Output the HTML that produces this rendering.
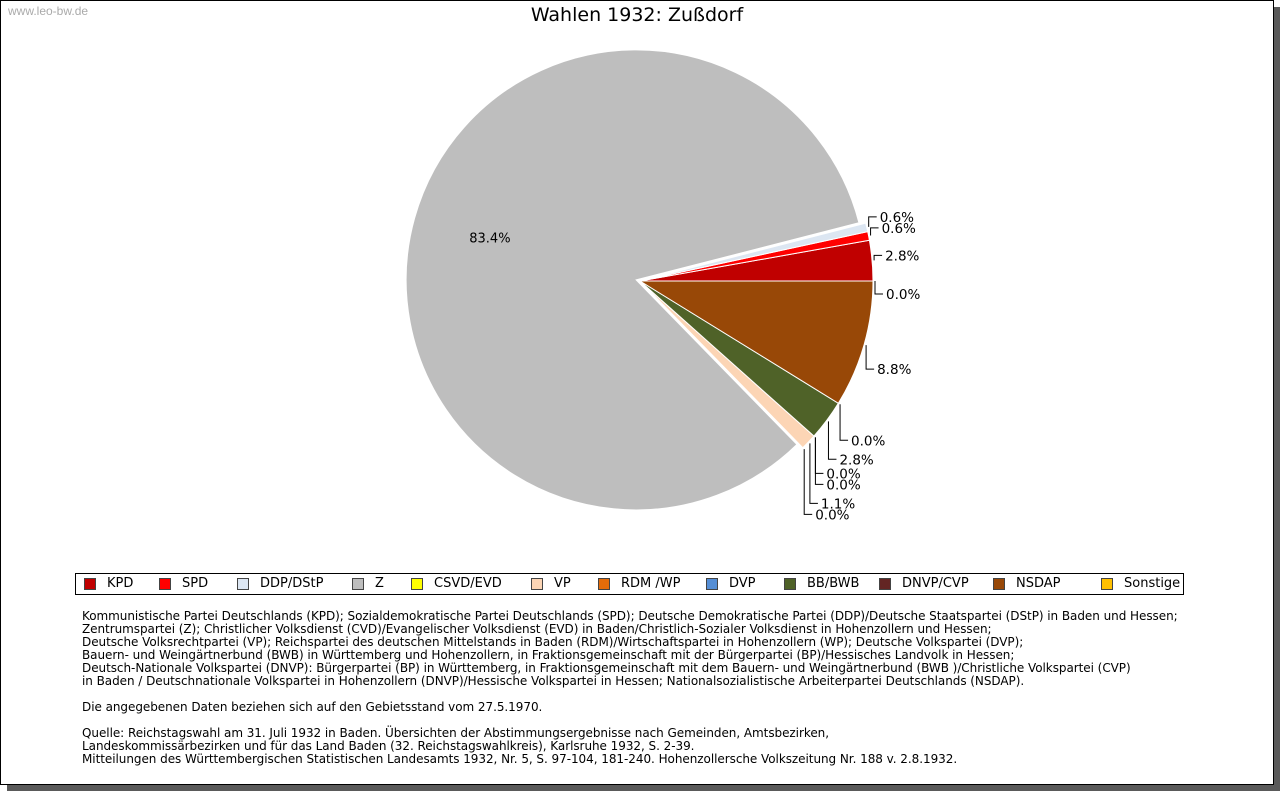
<!DOCTYPE html>
<html><head><meta charset="utf-8"><style>
body{margin:0;width:1280px;height:791px;background:#fff;position:relative;overflow:hidden;font-family:"Liberation Sans","DejaVu Sans",sans-serif}
#shadow{position:absolute;left:7px;top:7px;width:1273px;height:784px;background:#5a5a5a}
#frame{position:absolute;left:0;top:0;width:1272px;height:783px;border:1px solid #000;background:#fff}
#wm{position:absolute;left:8px;top:4px;font-size:12px;color:#aaa}
#title{position:absolute;left:0;width:1274px;top:4px;text-align:center;font-size:19px;font-family:"DejaVu Sans",sans-serif}
#legend{position:absolute;left:75px;top:573px;width:1107px;height:20px;border:1px solid #000;font-size:13px;font-family:"DejaVu Sans",sans-serif}
.li{position:absolute;top:3px;height:14px;white-space:nowrap}
.sw{position:absolute;left:0;top:1px;width:10px;height:10px;border:1px solid #444}
.lt{position:absolute;left:23px;top:-1px}
#notes{position:absolute;left:82px;top:610px;font-size:12px;line-height:13px;font-family:"DejaVu Sans",sans-serif;white-space:pre;letter-spacing:-0.05px}
</style></head><body>
<div id="shadow"></div>
<div id="frame"></div>
<div id="wm">www.leo-bw.de</div>
<div id="title">Wahlen 1932: Zußdorf</div>
<svg id="pie" width="1280" height="560" style="position:absolute;left:0;top:0"></svg>
<div id="legend"></div>
<div id="notes">Kommunistische Partei Deutschlands (KPD); Sozialdemokratische Partei Deutschlands (SPD); Deutsche Demokratische Partei (DDP)/Deutsche Staatspartei (DStP) in Baden und Hessen;
Zentrumspartei (Z); Christlicher Volksdienst (CVD)/Evangelischer Volksdienst (EVD) in Baden/Christlich-Sozialer Volksdienst in Hohenzollern und Hessen;
Deutsche Volksrechtpartei (VP); Reichspartei des deutschen Mittelstands in Baden (RDM)/Wirtschaftspartei in Hohenzollern (WP); Deutsche Volkspartei (DVP);
Bauern- und Weingärtnerbund (BWB) in Württemberg und Hohenzollern, in Fraktionsgemeinschaft mit der Bürgerpartei (BP)/Hessisches Landvolk in Hessen;
Deutsch-Nationale Volkspartei (DNVP): Bürgerpartei (BP) in Württemberg, in Fraktionsgemeinschaft mit dem Bauern- und Weingärtnerbund (BWB )/Christliche Volkspartei (CVP)
in Baden / Deutschnationale Volkspartei in Hohenzollern (DNVP)/Hessische Volkspartei in Hessen; Nationalsozialistische Arbeiterpartei Deutschlands (NSDAP).

Die angegebenen Daten beziehen sich auf den Gebietsstand vom 27.5.1970.

Quelle: Reichstagswahl am 31. Juli 1932 in Baden. Übersichten der Abstimmungsergebnisse nach Gemeinden, Amtsbezirken,
Landeskommissärbezirken und für das Land Baden (32. Reichstagswahlkreis), Karlsruhe 1932, S. 2-39.
Mitteilungen des Württembergischen Statistischen Landesamts 1932, Nr. 5, S. 97-104, 181-240. Hohenzollersche Volkszeitung Nr. 188 v. 2.8.1932.</div>
<script>
const parties=["KPD","SPD","DDP/DStP","Z","CSVD/EVD","VP","RDM /WP","DVP","BB/BWB","DNVP/CVP","NSDAP","Sonstige"];
const values=[2.8,0.6,0.6,83.4,0.0,1.1,0.0,0.0,2.8,0.0,8.8,0.0];
const colors=["#c00000","#ff0000","#dce6f2","#bebebe","#ffff00","#fcd5b5","#e46c0a","#558ed5","#4f6228","#632523","#984807","#ffc000"];
const legendX=[0,75,153,268,327,447,514,622,700,795,909,1017];
const NS="http://www.w3.org/2000/svg";
const svg=document.getElementById('pie');
const cx=640,cy=281,R=233,explodeIdx=3,explode=4;
const total=values.reduce((a,b)=>a+b,0);
function pt(a,r,ox,oy){return [cx+ox+r*Math.cos(a),cy+oy-r*Math.sin(a)];}
let acc=0;const labels=[];
values.forEach((v,i)=>{
  const a0=acc/total*2*Math.PI;acc+=v;const a1=acc/total*2*Math.PI;const am=(a0+a1)/2;
  let ox=0,oy=0,r=R;
  if(i===explodeIdx){ox=explode*Math.cos(am);oy=-explode*Math.sin(am);r=R-3;}
  if(v>0){
    const p0=pt(a0,r,ox,oy),p1=pt(a1,r,ox,oy);
    const large=(a1-a0)>Math.PI?1:0;
    const p=document.createElementNS(NS,'path');
    p.setAttribute('d',`M${cx+ox},${cy+oy}L${p0[0]},${p0[1]}A${r},${r} 0 ${large} 0 ${p1[0]},${p1[1]}Z`);
    p.setAttribute('fill',colors[i]);p.setAttribute('stroke','#fff');p.setAttribute('stroke-width','1');
    
    
    svg.appendChild(p);
  }
  if(i===explodeIdx){
    const t=document.createElementNS(NS,'text');
    const q=pt(am,R*0.66,0,0);
    t.setAttribute('x',q[0]-2);t.setAttribute('y',q[1]+3);t.setAttribute('font-size','13');t.setAttribute('text-anchor','middle');
    t.setAttribute('font-family','DejaVu Sans, sans-serif');
    t.textContent=v.toFixed(1)+'%';
    
    
    svg.appendChild(t);
  } else {
    const q=pt(am,R+2,0,0);
    labels.push({i,am,x:q[0],y:q[1],v});
  }
});
const up=labels.filter(l=>l.am<Math.PI/2&&l.v>0);
const down=labels.filter(l=>!up.includes(l)).sort((a,b)=>b.am-a.am);
up.sort((a,b)=>b.am-a.am);
let last=-1e9;
up.forEach((l,k)=>{l.ly=l.y-(k===up.length-1?5:10);if(l.ly<last+11)l.ly=last+11;last=l.ly;});
last=-1e9;
down.forEach(l=>{
  const off=(l.am<0.1||l.am>6.2)?13:(l.v>0?24:36);
  l.ly=l.y+off;if(l.ly<last+11)l.ly=last+11;
  if(l.v>0&&l.ly<last+19)l.ly=last+19;
  last=l.ly;});
const all=up.concat(down);
all.forEach(l=>{
  const lx=l.x;
  const line=document.createElementNS(NS,'polyline');
  line.setAttribute('points',`${lx},${l.y} ${lx},${l.ly} ${lx+8},${l.ly}`);
  line.setAttribute('fill','none');line.setAttribute('stroke','#000');line.setAttribute('stroke-width','1');
  
  
  svg.appendChild(line);
  const t=document.createElementNS(NS,'text');
  t.setAttribute('x',lx+11);t.setAttribute('y',l.ly+5);t.setAttribute('font-size','13.5');
  t.setAttribute('font-family','DejaVu Sans, sans-serif');
  t.textContent=l.v.toFixed(1)+'%';
  
  
  svg.appendChild(t);
});
const lg=document.getElementById('legend');
parties.forEach((p,i)=>{
  const d=document.createElement('div');d.className='li';d.style.left=(8+legendX[i])+'px';
  
  
  d.innerHTML=`<span class="sw" style="background:${colors[i]}"></span><span class="lt">${p}</span>`;
  lg.appendChild(d);
});
</script>
</body></html>
